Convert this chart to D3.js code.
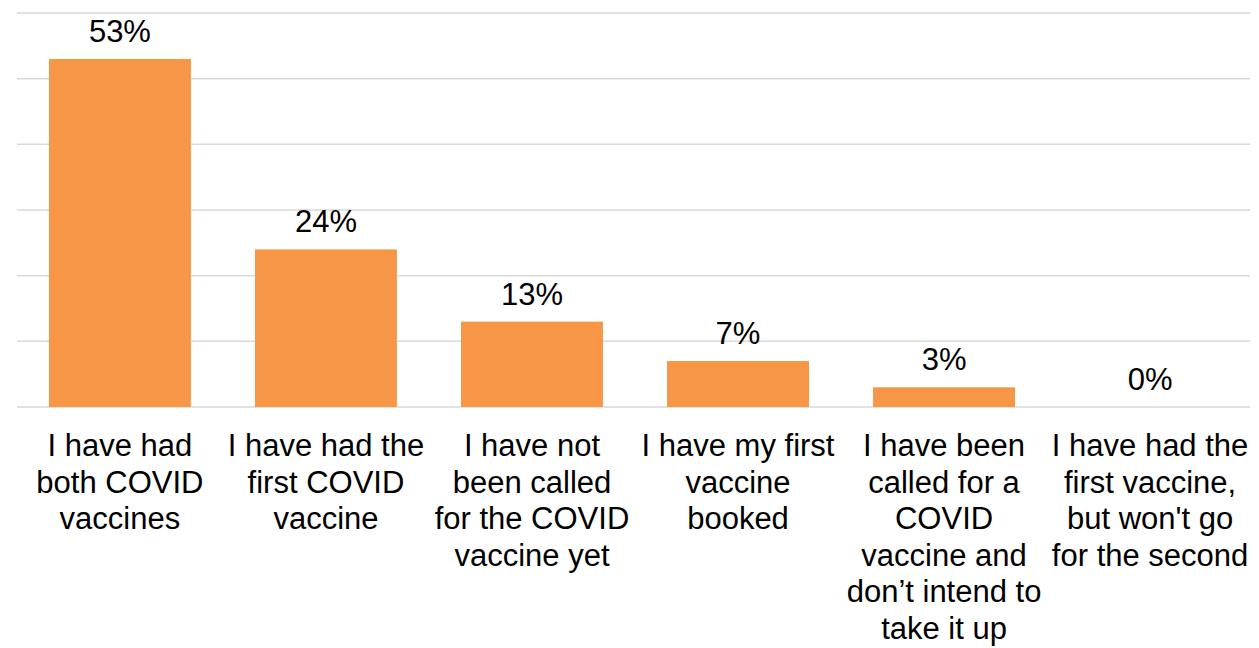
<!DOCTYPE html>
<html>
<head>
<meta charset="utf-8">
<script src="https://cdn.jsdelivr.net/npm/d3@7"></script>
<style>
  html, body { margin: 0; padding: 0; background: #fff; }
  svg { display: block; font-family: "Liberation Sans", Arial, sans-serif; }
</style>
</head>
<body>
<svg id="chart" width="1259" height="648"></svg>
<script>
// Survey responses on COVID vaccination status
const categories = [
  "I have had both COVID vaccines",
  "I have had the first COVID vaccine",
  "I have not been called for the COVID vaccine yet",
  "I have my first vaccine booked",
  "I have been called for a COVID vaccine and don\u2019t intend to take it up",
  "I have had the first vaccine, but won't go for the second"
];
const values = [53, 24, 13, 7, 3, 0];
// Wrapped axis label lines for each category
const categoryLines = [
  ["I have had", "both COVID", "vaccines"],
  ["I have had the", "first COVID", "vaccine"],
  ["I have not", "been called", "for the COVID", "vaccine yet"],
  ["I have my first", "vaccine", "booked"],
  ["I have been", "called for a", "COVID", "vaccine and", "don\u2019t intend to", "take it up"],
  ["I have had the", "first vaccine,", "but won't go", "for the second"]
];
const yTicks = [0, 10, 20, 30, 40, 50, 60];

const svg = d3.select("#chart");
const plotLeft = 17, plotRight = 1253, plotTop = 13, plotBottom = 407;

const x = d3.scaleBand()
  .domain(categories)
  .range([plotLeft, plotRight])
  .paddingInner(0.311)
  .paddingOuter(0.155);

const y = d3.scaleLinear().domain([0, 60]).range([plotBottom, plotTop]);

// Horizontal gridlines (the 0 line doubles as the baseline)
svg.append("g")
  .selectAll("line")
  .data(yTicks)
  .join("line")
  .attr("x1", plotLeft)
  .attr("x2", plotRight - 3)
  .attr("y1", d => y(d))
  .attr("y2", d => y(d))
  .attr("stroke", "#d9d9d9")
  .attr("stroke-width", 1.5);

// Bars
svg.append("g")
  .selectAll("rect")
  .data(values)
  .join("rect")
  .attr("x", (d, i) => x(categories[i]))
  .attr("width", x.bandwidth())
  .attr("y", d => y(d))
  .attr("height", d => y(0) - y(d))
  .attr("fill", "#f79646");

// Value labels
svg.append("g")
  .selectAll("text")
  .data(values)
  .join("text")
  .attr("x", (d, i) => x(categories[i]) + x.bandwidth() / 2)
  .attr("y", d => y(d) - 17)
  .attr("text-anchor", "middle")
  .attr("font-size", 31)
  .attr("fill", "#000")
  .text(d => d + "%");

// Category labels
const labels = svg.append("g")
  .selectAll("text")
  .data(categories)
  .join("text")
  .attr("x", d => x(d) + x.bandwidth() / 2)
  .attr("y", 456)
  .attr("text-anchor", "middle")
  .attr("font-size", 31)
  .attr("fill", "#000");

labels.each(function(d, i) {
  const t = d3.select(this);
  categoryLines[i].forEach((line, j) => {
    t.append("tspan")
      .attr("x", x(d) + x.bandwidth() / 2)
      .attr("dy", j === 0 ? 0 : 36.5)
      .text(line);
  });
});
</script>
</body>
</html>
